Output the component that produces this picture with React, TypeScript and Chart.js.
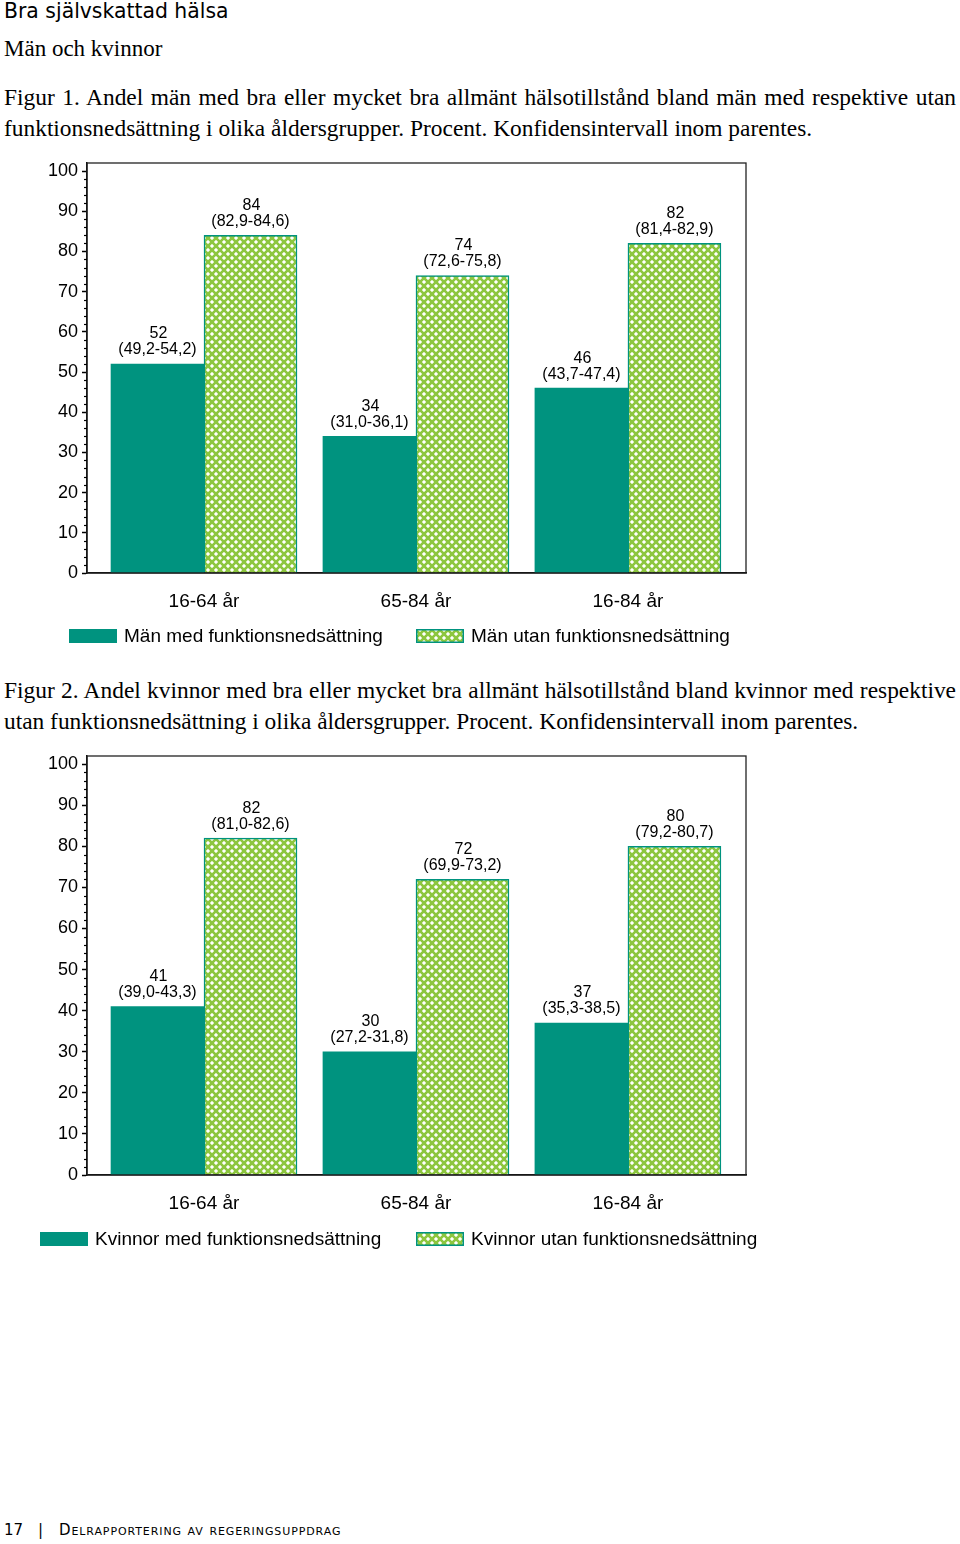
import React, { useEffect, useRef } from "react";
import { Chart, registerables } from "chart.js";

Chart.register(...registerables);

// ---------- data ----------
const categories = ["16-64 år", "65-84 år", "16-84 år"];

const menWith = [52, 34, 46];
const menWithout = [84, 74, 82];
const menWithCI = ["(49,2-54,2)", "(31,0-36,1)", "(43,7-47,4)"];
const menWithoutCI = ["(82,9-84,6)", "(72,6-75,8)", "(81,4-82,9)"];

const womenWith = [41, 30, 37];
const womenWithout = [82, 72, 80];
const womenWithCI = ["(39,0-43,3)", "(27,2-31,8)", "(35,3-38,5)"];
const womenWithoutCI = ["(81,0-82,6)", "(69,9-73,2)", "(79,2-80,7)"];

const yMax = 102;
const yStep = 10;
const yMinorStep = 2;

// ---------- style ----------
const TEAL = "#00937f";
const GREEN = "#8dc63f";
const SANS = "'Liberation Sans', Arial, sans-serif";

function makePattern(ctx: CanvasRenderingContext2D): CanvasPattern | string {
  const P = 8;
  const H = P / 2;
  const c = document.createElement("canvas");
  c.width = P;
  c.height = P;
  const cx = c.getContext("2d");
  if (!cx) return GREEN;
  const img = cx.createImageData(P, P);
  for (let y = 0; y < P; y++) {
    for (let x = 0; x < P; x++) {
      const u = (((x + y + 1) % P) + P) % P;
      const v = (((x - y) % P) + P) % P;
      const du = Math.abs(u - H);
      const dv = Math.abs(v - H);
      let r = 141, g = 198, b = 63;
      if (du + dv <= 1) {
        r = 255; g = 255; b = 255;
      } else if (du <= 2 && dv <= 2) {
        r = 214; g = 236; b = 184;
      }
      const k = (y * P + x) * 4;
      img.data[k] = r;
      img.data[k + 1] = g;
      img.data[k + 2] = b;
      img.data[k + 3] = 255;
    }
  }
  cx.putImageData(img, 0, 0);
  return ctx.createPattern(c, "repeat") || GREEN;
}

type Props = {
  top: number;
  height: number;
  bottomPad: number;
  withVals: number[];
  withoutVals: number[];
  withCI: string[];
  withoutCI: string[];
  withLabel: string;
  withoutLabel: string;
  legendY: number;
  legendX1: number;
};

function BarChart(p: Props) {
  const ref = useRef<HTMLCanvasElement | null>(null);
  useEffect(() => {
    const canvas = ref.current;
    if (!canvas) return;
    const ctx = canvas.getContext("2d");
    if (!ctx) return;
    const pattern = makePattern(ctx);

    const framePlugin = {
      id: "frame",
      afterDraw(chart: any) {
        const a = chart.chartArea;
        const c = chart.ctx;
        c.save();
        c.strokeStyle = "#222";
        c.lineWidth = 1.3;
        c.strokeRect(a.left, a.top, a.right - a.left, a.bottom - a.top);
        // minor ticks
        const ys = chart.scales.y;
        c.strokeStyle = "#000";
        c.lineWidth = 1.2;
        for (let v = 0; v <= 100; v += yMinorStep) {
          if (v % yStep === 0) continue;
          const py = Math.round(ys.getPixelForValue(v)) + 0.5;
          c.beginPath();
          c.moveTo(a.left - 3, py);
          c.lineTo(a.left, py);
          c.stroke();
        }
        c.restore();
      },
    };

    const labelPlugin = {
      id: "vlabels",
      afterDatasetsDraw(chart: any) {
        const c = chart.ctx;
        c.save();
        c.fillStyle = "#000";
        c.font = `16px ${SANS}`;
        c.textAlign = "center";
        c.textBaseline = "middle";
        chart.data.datasets.forEach((ds: any, di: number) => {
          const meta = chart.getDatasetMeta(di);
          meta.data.forEach((el: any, i: number) => {
            c.fillText(String(ds.data[i].y), el.x + 1, el.y - 30);
            c.fillText(ds.ci[i], el.x, el.y - 14);
          });
        });
        c.restore();
      },
    };

    const legendPlugin = {
      id: "customLegend",
      afterDraw(chart: any) {
        const c = chart.ctx;
        const xs = [p.legendX1, 416];
        c.save();
        c.font = `19px ${SANS}`;
        c.textBaseline = "middle";
        c.textAlign = "left";
        chart.data.datasets.forEach((ds: any, i: number) => {
          const x = xs[i];
          const y = p.legendY;
          c.fillStyle = ds.backgroundColor;
          c.fillRect(x, y - 7, 48, 14);
          if (ds.borderWidth) {
            c.strokeStyle = ds.borderColor;
            c.lineWidth = 1.5;
            c.strokeRect(x + 0.75, y - 6.25, 46.5, 12.5);
          }
          c.fillStyle = "#000";
          c.fillText(ds.label, x + 55, y + 1);
        });
        c.restore();
      },
    };

    const chart = new Chart(canvas, {
      type: "bar",
      data: {
        datasets: [
          {
            label: p.withLabel,
            data: categories.map((_, i) => ({ x: i + 1, y: p.withVals[i] })),
            backgroundColor: TEAL,
            borderWidth: 0,
            barThickness: 93,
            ci: p.withCI,
          } as any,
          {
            label: p.withoutLabel,
            data: categories.map((_, i) => ({ x: i + 1, y: p.withoutVals[i] })),
            backgroundColor: pattern,
            borderColor: TEAL,
            borderWidth: 1.5,
            borderSkipped: "bottom",
            barThickness: 93,
            ci: p.withoutCI,
          } as any,
        ],
      },
      options: {
        animation: false,
        responsive: false,
        maintainAspectRatio: false,
        layout: { padding: { left: 0, right: 214, top: 13, bottom: p.bottomPad } },
        plugins: { legend: { display: false }, tooltip: { enabled: false } },
        scales: {
          x: {
            type: "linear",
            offset: false,
            min: 0.448,
            max: 3.557,
            afterBuildTicks: (s: any) => {
              s.ticks = categories.map((_, i) => ({ value: i + 1 }));
            },
            ticks: {
              callback: (_v: any, i: number) => categories[i],
              font: { family: SANS, size: 19 },
              color: "#000",
              padding: 17,
              maxRotation: 0,
              autoSkip: false,
            },
            grid: { display: false, drawTicks: false },
            border: { display: true, color: "#000", width: 1.5 },
            afterFit: (s: any) => {
              s.height = 60;
              s.paddingLeft = 0;
              s.paddingRight = 0;
            },
          },
          y: {
            min: 0,
            max: yMax,
            ticks: {
              stepSize: yStep,
              includeBounds: false,
              font: { family: SANS, size: 18 },
              color: "#000",
              padding: 4,
            },
            grid: {
              drawOnChartArea: false,
              drawTicks: true,
              tickLength: 5,
              tickColor: "#000",
              tickWidth: 1.5,
            },
            border: { display: true, color: "#000", width: 1.5 },
            afterFit: (s: any) => {
              s.width = 87;
              s.paddingTop = 0;
              s.paddingBottom = 0;
            },
          },
        },
      } as any,
      plugins: [framePlugin, labelPlugin, legendPlugin],
    });
    return () => chart.destroy();
  }, []);
  return (
    <canvas
      ref={ref}
      width={960}
      height={p.height}
      style={{ position: "absolute", left: 0, top: p.top, width: 960, height: p.height }}
    />
  );
}

const serif: React.CSSProperties = {
  position: "absolute",
  left: 4,
  width: 952,
  fontFamily: "'Liberation Serif', 'Times New Roman', serif",
  fontSize: 23.4,
  lineHeight: "31px",
  color: "#000",
  whiteSpace: "nowrap",
  margin: 0,
};

const justified: React.CSSProperties = {
  ...serif,
  textAlign: "justify",
  textAlignLast: "justify" as any,
};

export default function App() {
  return (
    <div
      style={{
        position: "absolute",
        left: 0,
        top: 0,
        width: 960,
        height: 1544,
        background: "#fff",
        overflow: "hidden",
      }}
    >
      <div
        style={{
          position: "absolute",
          left: 4,
          top: 0,
          fontFamily: "'DejaVu Sans', Verdana, sans-serif",
          fontSize: 20.4,
          lineHeight: "23px",
          whiteSpace: "nowrap",
        }}
      >
        Bra självskattad hälsa
      </div>
      <div style={{ ...serif, top: 35.5, fontSize: 23, lineHeight: "25px" }}>Män och kvinnor</div>

      <div style={{ ...justified, top: 81.5 }}>
        Figur 1. Andel män med bra eller mycket bra allmänt hälsotillstånd bland män med respektive utan
      </div>
      <div style={{ ...serif, top: 112.5 }}>
        funktionsnedsättning i olika åldersgrupper. Procent. Konfidensintervall inom parentes.
      </div>

      <BarChart
        top={150}
        height={510}
        bottomPad={27}
        withVals={menWith}
        withoutVals={menWithout}
        withCI={menWithCI}
        withoutCI={menWithoutCI}
        withLabel="Män med funktionsnedsättning"
        withoutLabel="Män utan funktionsnedsättning"
        legendY={486}
        legendX1={69}
      />

      <div style={{ ...justified, top: 675 }}>
        Figur 2. Andel kvinnor med bra eller mycket bra allmänt hälsotillstånd bland kvinnor med respektive
      </div>
      <div style={{ ...serif, top: 706 }}>
        utan funktionsnedsättning i olika åldersgrupper. Procent. Konfidensintervall inom parentes.
      </div>

      <BarChart
        top={743}
        height={520}
        bottomPad={28}
        withVals={womenWith}
        withoutVals={womenWithout}
        withCI={womenWithCI}
        withoutCI={womenWithoutCI}
        withLabel="Kvinnor med funktionsnedsättning"
        withoutLabel="Kvinnor utan funktionsnedsättning"
        legendY={496}
        legendX1={40}
      />

      <div
        style={{
          position: "absolute",
          top: 1521,
          left: 0,
          fontFamily: "'DejaVu Sans', Tahoma, sans-serif",
          fontSize: 15,
          lineHeight: "18px",
          whiteSpace: "nowrap",
          color: "#000",
        }}
      >
        <span style={{ position: "absolute", left: 4 }}>17</span>
        <span style={{ position: "absolute", left: 38 }}>|</span>
        <span
          style={{
            position: "absolute",
            left: 59,
            fontVariant: "small-caps",
            letterSpacing: "0.9px",
          }}
        >
          Delrapportering av regeringsuppdrag
        </span>
      </div>
    </div>
  );
}
